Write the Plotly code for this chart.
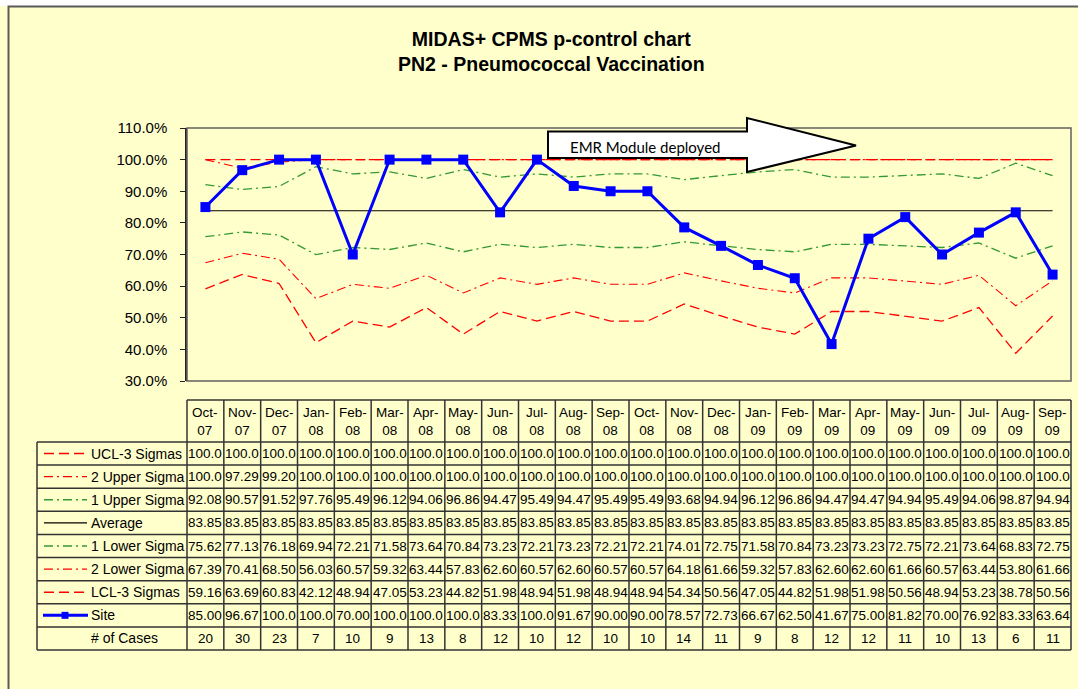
import plotly.graph_objects as go

months = ["Oct-07", "Nov-07", "Dec-07", "Jan-08", "Feb-08", "Mar-08", "Apr-08", "May-08",
          "Jun-08", "Jul-08", "Aug-08", "Sep-08", "Oct-08", "Nov-08", "Dec-08", "Jan-09",
          "Feb-09", "Mar-09", "Apr-09", "May-09", "Jun-09", "Jul-09", "Aug-09", "Sep-09"]
ucl3 = [100.0, 100.0, 100.0, 100.0, 100.0, 100.0, 100.0, 100.0, 100.0, 100.0, 100.0, 100.0,
        100.0, 100.0, 100.0, 100.0, 100.0, 100.0, 100.0, 100.0, 100.0, 100.0, 100.0, 100.0]
upper2 = [100.0, 97.29, 99.20, 100.0, 100.0, 100.0, 100.0, 100.0, 100.0, 100.0, 100.0, 100.0,
          100.0, 100.0, 100.0, 100.0, 100.0, 100.0, 100.0, 100.0, 100.0, 100.0, 100.0, 100.0]
upper1 = [92.08, 90.57, 91.52, 97.76, 95.49, 96.12, 94.06, 96.86, 94.47, 95.49, 94.47, 95.49,
          95.49, 93.68, 94.94, 96.12, 96.86, 94.47, 94.47, 94.94, 95.49, 94.06, 98.87, 94.94]
average = [83.85, 83.85, 83.85, 83.85, 83.85, 83.85, 83.85, 83.85, 83.85, 83.85, 83.85, 83.85,
           83.85, 83.85, 83.85, 83.85, 83.85, 83.85, 83.85, 83.85, 83.85, 83.85, 83.85, 83.85]
lower1 = [75.62, 77.13, 76.18, 69.94, 72.21, 71.58, 73.64, 70.84, 73.23, 72.21, 73.23, 72.21,
          72.21, 74.01, 72.75, 71.58, 70.84, 73.23, 73.23, 72.75, 72.21, 73.64, 68.83, 72.75]
lower2 = [67.39, 70.41, 68.50, 56.03, 60.57, 59.32, 63.44, 57.83, 62.60, 60.57, 62.60, 60.57,
          60.57, 64.18, 61.66, 59.32, 57.83, 62.60, 62.60, 61.66, 60.57, 63.44, 53.80, 61.66]
lcl3 = [59.16, 63.69, 60.83, 42.12, 48.94, 47.05, 53.23, 44.82, 51.98, 48.94, 51.98, 48.94,
        48.94, 54.34, 50.56, 47.05, 44.82, 51.98, 51.98, 50.56, 48.94, 53.23, 38.78, 50.56]
site = [85.00, 96.67, 100.0, 100.0, 70.00, 100.0, 100.0, 100.0, 83.33, 100.0, 91.67, 90.00,
        90.00, 78.57, 72.73, 66.67, 62.50, 41.67, 75.00, 81.82, 70.00, 76.92, 83.33, 63.64]
cases = [20, 30, 23, 7, 10, 9, 13, 8, 12, 10, 12, 10, 10, 14, 11, 9, 8, 12, 12, 11, 10, 13, 6, 11]
y_ticks = [30, 40, 50, 60, 70, 80, 90, 100, 110]
y_tick_labels = ["30.0%", "40.0%", "50.0%", "60.0%", "70.0%", "80.0%", "90.0%", "100.0%", "110.0%"]

W, H = 1078, 689
PL, PR, PT, PB = 187, 1071, 128, 381
BG = "#FFFFCC"
RED = "#FF0000"
GREEN = "#339933"
BLUE = "#0000FF"
FONT = "Liberation Sans, Arial, sans-serif"
DASH = "10px,5px"
DASHDOT = "9px,4px,2px,4px"


def xp(px):
    return (px - PL) / (PR - PL)


def yp(py):
    return (PB - py) / (PB - PT)


series = [
    ("UCL-3 Sigmas", ucl3, RED, DASH, 1.3),
    ("2 Upper Sigma", upper2, RED, DASHDOT, 1.1),
    ("1 Upper Sigma", upper1, GREEN, DASHDOT, 1.3),
    ("Average", average, "#000000", "solid", 1.1),
    ("1 Lower Sigma", lower1, GREEN, DASHDOT, 1.3),
    ("2 Lower Sigma", lower2, RED, DASHDOT, 1.1),
    ("LCL-3 Sigmas", lcl3, RED, DASH, 1.3),
]

fig = go.Figure()
for name, vals, col, dash, w in series:
    fig.add_trace(go.Scatter(x=months, y=vals, mode="lines", name=name,
                             line=dict(color=col, dash=dash, width=w)))
fig.add_trace(go.Scatter(x=months, y=site, mode="lines+markers", name="Site",
                         line=dict(color=BLUE, width=3),
                         marker=dict(symbol="square", size=10, color=BLUE)))

shapes = []
annots = []

# white strip above chart and outer chart border (cropped on right/bottom)
shapes.append(dict(type="rect", xref="paper", yref="paper",
                   x0=xp(-5), x1=xp(W + 5), y0=yp(6), y1=yp(-5),
                   fillcolor="#FFFFFF", line=dict(width=0), layer="below"))
shapes.append(dict(type="rect", xref="paper", yref="paper",
                   x0=xp(8.5), x1=xp(W + 20), y0=yp(6.5), y1=yp(H + 20),
                   line=dict(color="#5a5a5a", width=2), layer="below"))
# plot area frame
shapes.append(dict(type="rect", xref="paper", yref="paper", x0=0, x1=1, y0=0, y1=1,
                   line=dict(color="#606060", width=1.5), layer="above"))

# Title
annots.append(dict(text="<b>MIDAS+ CPMS p-control chart<br>PN2 - Pneumococcal Vaccination</b>",
                   xref="paper", yref="paper", x=xp(551), y=yp(52), showarrow=False,
                   xanchor="center", yanchor="middle",
                   font=dict(family=FONT, size=19.5, color="#000000")))

# EMR arrow
pts = [(548, 131.5), (747, 131.5), (747, 118), (856, 145.5), (747, 172), (747, 158), (548, 158)]
path = "M " + " L ".join(f"{xp(a):.5f},{yp(b):.5f}" for a, b in pts) + " Z"
shapes.append(dict(type="path", xref="paper", yref="paper", path=path,
                   fillcolor="#FFFFFF", line=dict(color="#000000", width=2), layer="above"))
annots.append(dict(text="EMR Module deployed", xref="paper", yref="paper",
                   x=xp(568), y=yp(147), xanchor="left", yanchor="middle", showarrow=False,
                   font=dict(family="Lato, Open Sans, sans-serif", size=15, color="#000000")))

# Data table
TB = "#333333"
hdr_top, hdr_bot = 400, 442
row_h = (650 - 442) / 9
leg_left = 37
row_names = [s[0] for s in series] + ["Site", "# of Cases"]
row_vals = [s[1] for s in series] + [site, cases]
n = len(months)
col_w = (PR - PL) / n

shapes.append(dict(type="line", xref="paper", yref="paper", x0=xp(PL), x1=xp(PR),
                   y0=yp(hdr_top), y1=yp(hdr_top), line=dict(color=TB, width=1.5)))
for r in range(10):
    yy = hdr_bot + r * row_h
    shapes.append(dict(type="line", xref="paper", yref="paper", x0=xp(leg_left), x1=xp(PR),
                       y0=yp(yy), y1=yp(yy), line=dict(color=TB, width=1.5)))
shapes.append(dict(type="line", xref="paper", yref="paper", x0=xp(leg_left), x1=xp(leg_left),
                   y0=yp(hdr_bot), y1=yp(650), line=dict(color=TB, width=1.5)))
for c in range(n + 1):
    xx = PL + c * col_w
    shapes.append(dict(type="line", xref="paper", yref="paper", x0=xp(xx), x1=xp(xx),
                       y0=yp(hdr_top), y1=yp(650), line=dict(color=TB, width=1.5)))

for c, m in enumerate(months):
    mon, yr = m.split("-")
    annots.append(dict(text=f"{mon}-<br>{yr}", x=m, xref="x", yref="paper",
                       y=yp((hdr_top + hdr_bot) / 2), showarrow=False,
                       xanchor="center", yanchor="middle",
                       font=dict(family=FONT, size=13.5, color="#000000")))


def fmt(v):
    if isinstance(v, int):
        return str(v)
    return f"{v:.1f}" if v >= 100 else f"{v:.2f}"


for r, (nm, vals) in enumerate(zip(row_names, row_vals)):
    yc = hdr_bot + (r + 0.5) * row_h
    annots.append(dict(text=nm, xref="paper", yref="paper", x=xp(89), y=yp(yc),
                       xanchor="left", yanchor="middle", showarrow=False,
                       font=dict(family=FONT, size=14, color="#000000")))
    for m, v in zip(months, vals):
        annots.append(dict(text=fmt(v), x=m, xref="x", yref="paper", y=yp(yc),
                           xanchor="center", yanchor="middle", showarrow=False,
                           font=dict(family=FONT, size=13.5, color="#000000")))
    if r < len(series):
        _, _, col, dash, w = series[r]
        shapes.append(dict(type="line", xref="paper", yref="paper", x0=xp(44), x1=xp(87),
                           y0=yp(yc), y1=yp(yc), line=dict(color=col, dash=dash, width=w + 0.3)))
    elif nm == "Site":
        shapes.append(dict(type="line", xref="paper", yref="paper", x0=xp(43), x1=xp(88),
                           y0=yp(yc), y1=yp(yc), line=dict(color=BLUE, width=3)))
        shapes.append(dict(type="rect", xref="paper", yref="paper", x0=xp(61.5), x1=xp(68.5),
                           y0=yp(yc + 3.5), y1=yp(yc - 3.5), fillcolor=BLUE,
                           line=dict(color=BLUE, width=0)))

fig.update_layout(
    width=W, height=H, autosize=False,
    margin=dict(l=PL, r=W - PR, t=PT, b=H - PB, pad=0),
    paper_bgcolor=BG, plot_bgcolor=BG,
    showlegend=False,
    shapes=shapes, annotations=annots,
    xaxis=dict(type="category", showticklabels=False, ticks="", showgrid=False,
               zeroline=False, showline=False, range=[-0.5, n - 0.5]),
    yaxis=dict(range=[30, 110], tickvals=y_ticks, ticktext=y_tick_labels,
               ticks="outside", ticklen=5, tickcolor="#222222", showgrid=False,
               zeroline=False, showline=True, linecolor="#222222", linewidth=1.5,
               ticklabelstandoff=10,
               tickfont=dict(family=FONT, size=15, color="#000000")),
)

fig.write_html("out.html", config={"displayModeBar": False},
               post_script="document.body.style.margin='0px';document.body.style.overflow='hidden';")
